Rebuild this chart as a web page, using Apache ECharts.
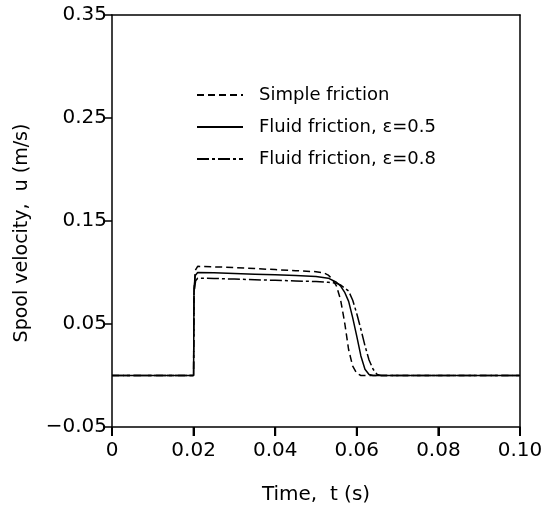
<!DOCTYPE html>
<html>
<head>
<meta charset="utf-8">
<script src="https://cdn.jsdelivr.net/npm/echarts@6/dist/echarts.min.js"></script>
<style>html,body{margin:0;padding:0;background:#fff}#c{width:557px;height:510px}</style>
</head>
<body>
<div id="c"></div>
<script>
const seriesNames = ['Simple friction', 'Fluid friction, \u03b5=0.5', 'Fluid friction, \u03b5=0.8'];
const xTicks = [0, 0.02, 0.04, 0.06, 0.08, 0.10];
const xTickLabels = ['0', '0.02', '0.04', '0.06', '0.08', '0.10'];
const yTicks = [-0.05, 0.05, 0.15, 0.25, 0.35];
const yTickLabels = ['\u22120.05', '0.05', '0.15', '0.25', '0.35'];

const simpleT = [0, 0.02, 0.0201, 0.0204, 0.021, 0.025, 0.03, 0.035, 0.04, 0.045, 0.05, 0.052, 0.053, 0.054, 0.055, 0.056, 0.057, 0.058, 0.059, 0.060, 0.061, 0.1];
const simpleU = [0, 0, 0.08, 0.102, 0.106, 0.1055, 0.1048, 0.1038, 0.1028, 0.1018, 0.1008, 0.0995, 0.0975, 0.0935, 0.087, 0.074, 0.052, 0.025, 0.009, 0.002, 0, 0];

const fluid5T = [0, 0.02, 0.0201, 0.0204, 0.021, 0.025, 0.03, 0.035, 0.04, 0.045, 0.05, 0.053, 0.055, 0.056, 0.057, 0.058, 0.059, 0.060, 0.061, 0.062, 0.063, 0.064, 0.1];
const fluid5U = [0, 0, 0.085, 0.097, 0.1, 0.0997, 0.0991, 0.0984, 0.0977, 0.097, 0.0962, 0.0945, 0.0905, 0.087, 0.081, 0.072, 0.056, 0.038, 0.019, 0.006, 0.001, 0, 0];

const fluid8T = [0, 0.02, 0.0201, 0.0205, 0.021, 0.025, 0.03, 0.035, 0.04, 0.045, 0.05, 0.053, 0.055, 0.056, 0.057, 0.058, 0.059, 0.060, 0.061, 0.062, 0.063, 0.064, 0.065, 0.066, 0.1];
const fluid8U = [0, 0, 0.08, 0.092, 0.0945, 0.0942, 0.0936, 0.093, 0.0924, 0.0918, 0.0912, 0.0905, 0.0895, 0.088, 0.085, 0.082, 0.073, 0.060, 0.045, 0.029, 0.015, 0.006, 0.001, 0, 0];

function pairs(t, u) { return t.map((v, i) => [v, u[i]]); }
function lookup(ticks, labels) {
  return v => { const i = ticks.findIndex(x => Math.abs(x - v) < 1e-9); return i >= 0 ? labels[i] : ''; };
}

const FONT = '"DejaVu Sans", Verdana, sans-serif';
const AX = { color: '#000', width: 1.5 };
const yMin = yTicks[0], yMax = yTicks[yTicks.length - 1];
const chart = echarts.init(document.getElementById('c'));
chart.setOption({
  animation: false,
  backgroundColor: '#fff',
  grid: { left: 112, right: 37, top: 15, bottom: 82, show: false },
  legend: {
    orient: 'vertical', left: 191, top: 81, itemWidth: 46, itemHeight: 14, itemGap: 14,
    data: seriesNames,
    itemStyle: { opacity: 0 },
    textStyle: { fontFamily: FONT, fontSize: 18, color: '#000', padding: [0, 0, 0, 11] }
  },
  xAxis: [{
    type: 'value', min: 0, max: 0.1, interval: 0.02, position: 'bottom',
    name: 'Time,  t (s)', nameLocation: 'middle', nameGap: 58,
    nameTextStyle: { fontFamily: FONT, fontSize: 20, color: '#000' },
    axisLine: { show: true, onZero: false, lineStyle: AX },
    axisTick: { show: true, length: 9, lineStyle: { color: '#000', width: 2 } },
    axisLabel: { show: true, fontFamily: FONT, fontSize: 20, color: '#000', margin: 14,
      formatter: lookup(xTicks, xTickLabels) },
    splitLine: { show: false }
  }, {
    type: 'value', min: 0, max: 0.1, position: 'top',
    axisLine: { show: true, onZero: false, lineStyle: AX },
    axisTick: { show: false }, axisLabel: { show: false }, splitLine: { show: false }
  }],
  yAxis: [{
    type: 'value', min: yMin, max: yMax, position: 'left',
    name: 'Spool velocity,  u (m/s)', nameLocation: 'middle', nameGap: 80,
    nameTextStyle: { fontFamily: FONT, fontSize: 19, color: '#000', padding: [0, 24, 0, 0] },
    axisLine: { show: true, onZero: false, lineStyle: AX },
    axisTick: { show: true, length: 9, lineStyle: AX, customValues: yTicks },
    axisLabel: { customValues: yTicks, fontFamily: FONT, fontSize: 20, color: '#000', margin: 5,
      formatter: lookup(yTicks, yTickLabels) },
    splitLine: { show: false }
  }, {
    type: 'value', min: yMin, max: yMax, position: 'right',
    axisLine: { show: true, onZero: false, lineStyle: AX },
    axisTick: { show: false }, axisLabel: { show: false }, splitLine: { show: false }
  }],
  series: [
    { name: seriesNames[0], type: 'line', symbol: 'none', data: pairs(simpleT, simpleU),
      lineStyle: { color: '#000', width: 1.5, type: [7, 4] }, itemStyle: { color: '#000' } },
    { name: seriesNames[1], type: 'line', symbol: 'none', data: pairs(fluid5T, fluid5U),
      lineStyle: { color: '#000', width: 1.5, type: 'solid' }, itemStyle: { color: '#000' } },
    { name: seriesNames[2], type: 'line', symbol: 'none', data: pairs(fluid8T, fluid8U),
      lineStyle: { color: '#000', width: 1.5, type: [12, 3, 3, 3] }, itemStyle: { color: '#000' } },
    { name: 'xticks', type: 'custom', silent: true, clip: false, z: 100,
      data: xTicks.map(t => [t, yMin]),
      renderItem: (params, api) => {
        const p = api.coord([api.value(0), api.value(1)]);
        return { type: 'line', z2: 100, shape: { x1: p[0], y1: p[1], x2: p[0], y2: p[1] + 9 },
                 style: { stroke: '#000', lineWidth: 2, fill: null } };
      } }
  ]
});
</script>
</body>
</html>
